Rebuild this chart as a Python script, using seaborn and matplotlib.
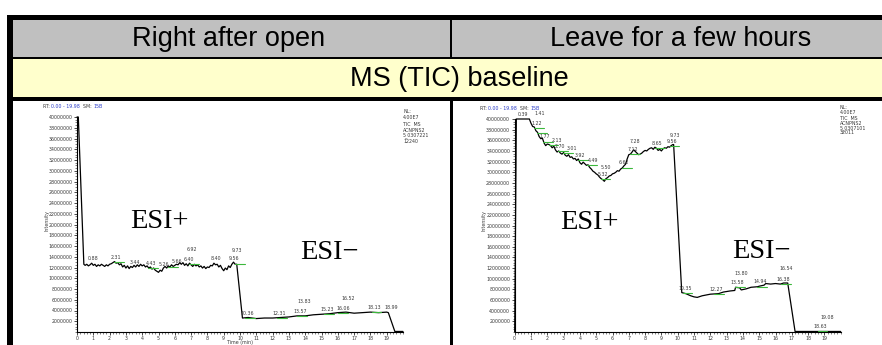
import numpy as np
import pandas as pd
import matplotlib
matplotlib.use("Agg")
import matplotlib.pyplot as plt
import seaborn as sns
from matplotlib import font_manager
from matplotlib.patches import Rectangle
from matplotlib.ticker import FixedLocator, FixedFormatter, MultipleLocator

# ---------------- data ----------------
col_headers = ["Right after open", "Leave for a few hours"]
row_header = "MS (TIC) baseline"

# left panel trace (time in min, intensity in 1e6 counts)
left_time = [0.0, 0.08, 0.42, 0.5, 0.6, 0.7, 0.8, 0.9, 1.0, 1.1, 1.2, 1.3, 1.4, 1.5, 1.6, 1.7, 1.8, 1.9,
             2.0, 2.1, 2.2, 2.3, 2.4, 2.5, 2.6, 2.7, 2.8, 2.9, 3.0, 3.1, 3.2, 3.3, 3.4, 3.5, 3.6, 3.7,
             3.8, 3.9, 4.0, 4.1, 4.2, 4.3, 4.4, 4.5, 4.6, 4.7, 4.8, 4.9, 5.0, 5.1, 5.2, 5.3, 5.4, 5.5,
             5.6, 5.7, 5.8, 5.9, 6.0, 6.1, 6.2, 6.3, 6.4, 6.5, 6.6, 6.7, 6.8, 6.9, 7.0, 7.1, 7.2, 7.3,
             7.4, 7.5, 7.6, 7.7, 7.8, 7.9, 8.0, 8.1, 8.2, 8.3, 8.4, 8.5, 8.6, 8.7, 8.8, 8.9, 9.0, 9.1,
             9.2, 9.3, 9.4, 9.5, 9.6, 9.7, 9.8, 10.15, 10.5, 11.0, 11.5, 12.0, 12.5, 13.0, 13.5, 14.0,
             14.5, 15.0, 15.5, 16.0, 16.5, 17.0, 17.5, 18.0, 18.5, 19.0, 19.1, 19.5, 20.0]
left_int = [40.0, 40.0, 12.6, 12.4, 12.6, 12.3, 12.5, 12.8, 12.4, 12.6, 12.2, 12.5, 12.3, 12.6, 12.4, 12.2, 12.5, 12.3,
            12.6, 12.7, 12.9, 13.1, 12.8, 12.9, 12.5, 12.7, 12.1, 12.4, 11.9, 12.3, 11.8, 12.2, 12.0, 12.4, 12.1, 12.5,
            12.2, 12.6, 12.3, 12.5, 12.1, 12.3, 11.9, 12.1, 11.7, 11.9, 11.5, 11.3, 11.1, 11.5, 11.3, 11.9, 12.2, 11.9,
            12.3, 12.1, 12.5, 12.2, 12.4, 12.6, 12.5, 12.9, 12.6, 12.9, 12.4, 12.7, 12.3, 12.8, 12.5, 12.2, 12.6, 12.3,
            12.5, 12.1, 12.3, 11.9, 12.2, 11.8, 12.1, 12.0, 12.4, 12.3, 12.8, 12.5, 12.6, 12.1, 12.4, 11.8, 11.4, 11.9,
            11.6, 12.3, 12.0, 12.6, 13.0, 12.6, 12.6, 2.6, 2.7, 2.5, 2.6, 2.6, 2.7, 2.8, 3.0, 3.0,
            3.2, 3.3, 3.4, 3.6, 3.7, 3.5, 3.6, 3.7, 3.6, 3.7, 3.6, 0.1, 0.1]

# right panel trace
right_time = [0.0, 0.1, 0.9, 1.0, 1.1, 1.2, 1.3, 1.4, 1.5, 1.6, 1.7, 1.8, 1.9, 2.0, 2.1, 2.2, 2.3, 2.4, 2.5,
              2.6, 2.7, 2.8, 2.9, 3.0, 3.1, 3.2, 3.3, 3.4, 3.5, 3.6, 3.7, 3.8, 3.9, 4.0, 4.1, 4.2, 4.3,
              4.4, 4.5, 4.6, 4.7, 4.8, 4.9, 5.0, 5.1, 5.2, 5.3, 5.4, 5.5, 5.6, 5.7, 5.8, 5.9, 6.0, 6.1,
              6.2, 6.3, 6.4, 6.5, 6.6, 6.7, 6.8, 6.9, 7.0, 7.1, 7.2, 7.3, 7.4, 7.5, 7.6, 7.7, 7.8, 7.9,
              8.0, 8.1, 8.2, 8.3, 8.4, 8.5, 8.6, 8.7, 8.8, 8.9, 9.0, 9.1, 9.2, 9.3, 9.4, 9.5, 9.6, 9.7,
              9.75, 10.25, 10.5, 10.8, 11.0, 11.2, 11.5, 12.0, 12.5, 12.8, 13.2, 13.5, 13.55, 13.8, 13.9,
              14.2, 14.5, 14.9, 15.0, 15.3, 15.4, 15.7, 16.0, 16.3, 16.5, 16.75, 17.2, 20.0]
right_int = [0.0, 40.0, 40.0, 39.2, 38.6, 38.5, 37.8, 37.5, 36.7, 36.3, 36.4, 35.5, 35.0, 35.3, 35.2, 35.0, 34.6, 34.9, 34.2,
             33.8, 34.0, 33.6, 33.4, 33.7, 33.2, 33.0, 33.3, 32.8, 32.9, 32.5, 32.6, 32.2, 32.5, 31.8, 31.5, 31.9, 31.6,
             31.3, 31.4, 30.9, 30.6, 30.2, 30.0, 29.7, 29.5, 29.1, 28.8, 28.6, 28.3, 28.8, 29.0, 29.3, 29.4, 29.7, 29.8,
             30.0, 30.3, 30.2, 30.6, 30.8, 31.2, 31.5, 32.5, 33.3, 33.4, 33.8, 34.2, 33.9, 33.6, 33.3, 33.4, 33.6, 33.9,
             34.1, 34.0, 34.3, 34.5, 34.6, 34.3, 34.7, 34.5, 34.1, 34.3, 34.0, 34.4, 34.6, 34.5, 34.8, 34.7, 35.0, 35.2,
             35.2, 7.4, 7.2, 6.8, 6.6, 6.5, 6.8, 7.1, 7.2, 7.5, 7.7, 7.8, 8.4, 8.3, 7.9,
             8.1, 8.4, 8.5, 8.6, 8.8, 9.1, 9.0, 9.1, 9.0, 9.2, 9.2, 0.1, 0.1]

# peak labels (retention times)
left_peaks = ["0.88", "2.31", "3.44", "4.43", "5.26", "5.66", "6.40", "6.92", "8.40", "9.56", "9.73",
              "10.36", "12.31", "13.57", "13.83", "15.23", "16.06", "16.52", "18.13", "18.99"]
right_peaks = ["0.39", "1.22", "1.41", "1.77", "2.13", "2.70", "3.01", "3.92", "4.49", "5.32", "5.50",
               "6.62", "7.12", "7.28", "8.65", "9.56", "9.73", "10.35", "12.27", "13.58", "13.80",
               "14.94", "16.38", "16.54", "18.63", "19.08"]
left_green = ["2.31", "4.43", "5.66", "6.92", "9.73", "10.36", "12.31", "13.57", "15.23", "16.06", "18.13"]
right_green = ["1.22", "1.41", "1.77", "2.13", "2.70", "3.01", "3.92", "4.49", "5.32", "6.62", "7.12",
               "8.65", "9.56", "10.35", "12.27", "13.58", "14.94", "16.38", "18.63"]

nl_left = ["NL:", "4.00E7", "TIC  MS", "ACNPNS2", "5_0307221", "12240"]
nl_right = ["NL:", "4.00E7", "TIC  MS", "ACNPNS2", "5_0307101", "32011"]
rt_range = "0.00 - 19.98"
sm_value = "15B"
ytick_vals = [2, 4, 6, 8, 10, 12, 14, 16, 18, 20, 22, 24, 26, 28, 30, 32, 34, 36, 38, 40]
ytick_labels = ["2000000", "4000000", "6000000", "8000000", "10000000", "12000000", "14000000",
                "16000000", "18000000", "20000000", "22000000", "24000000", "26000000", "28000000",
                "30000000", "32000000", "34000000", "36000000", "38000000", "40000000"]
xtick_vals = list(range(0, 20))

# ---------------- fonts ----------------
def has_font(name):
    try:
        font_manager.findfont(font_manager.FontProperties(family=name), fallback_to_default=False)
        return True
    except Exception:
        return False

narrow = "Liberation Sans Narrow" if has_font("Liberation Sans Narrow") else "Liberation Sans"
serif = "Liberation Serif"

sns.set_style("white")
plt.rcParams["font.family"] = ["DejaVu Sans"]

W, H = 882, 345
fig = plt.figure(figsize=(W / 100, H / 100), dpi=100)
renderer = fig.canvas.get_renderer()


def fx(x):
    return x / W


def fy(y):
    return 1 - y / H


def rect(x0, y0, x1, y1, color):
    fig.patches.append(Rectangle((fx(x0), fy(y1)), fx(x1) - fx(x0), fy(y0) - fy(y1),
                                 transform=fig.transFigure, color=color, lw=0, zorder=0))


# table background
rect(7, 15, 882, 19.5, "black")
rect(7, 19.5, 882, 57, "#c0c0c0")
rect(7, 57, 882, 59.5, "black")
rect(7, 59.5, 882, 97, "#ffffcc")
rect(7, 97, 882, 100.5, "black")
rect(7, 15, 13, 345, "black")
rect(450, 19.5, 452, 57, "black")
rect(450, 100.5, 452.5, 345, "black")

hfont = dict(family=narrow, fontsize=22, color="black", ha="center", va="center")
if narrow == "Liberation Sans":
    hfont["fontsize"] = 19.5
fig.text(fx(229), fy(39), col_headers[0], **hfont)
fig.text(fx(681), fy(39), col_headers[1], **hfont)
fig.text(fx(459), fy(79), row_header, **hfont)

small = 3.4
gray = "#3a3a3a"
blue = "#2a3cc8"


def overlaps(bb, others, pad=0.6):
    for o in others:
        if (bb.x0 - pad < o.x1 and bb.x1 + pad > o.x0 and bb.y0 - pad < o.y1 and bb.y1 + pad > o.y0):
            return True
    return False


def text_row(x, y, pieces):
    """draw consecutive text pieces starting at pixel x, y"""
    for s, c in pieces:
        t = fig.text(fx(x), fy(y), s, fontsize=small, color=c, ha="left", va="center")
        bb = t.get_window_extent(renderer)
        x += bb.width


# candidate nudges for peak labels, in points (right first, then up)
nudges = [(0, 0), (2.2, 0), (4.4, 0), (0, 3.4), (2.2, 3.4), (4.4, 3.4), (-2.2, 3.4),
          (0, 6.8), (3.0, 6.8), (0, 10.2)]


def make_panel(x0, ytop, times, vals, peaks, greens, nl, nl_x, nl_y, nl_dy, rt_xy, ilab_x, time_label):
    x1 = x0 + 16.3 * 20
    ybot = 332
    ax = fig.add_axes([fx(x0), fy(ybot), fx(x1) - fx(x0), fy(ytop) - fy(ybot)])
    df = pd.DataFrame({"time": times, "intensity": np.array(vals) * 1e6})
    sns.lineplot(data=df, x="time", y="intensity", ax=ax, color="black", lw=0.9,
                 estimator=None, sort=False)
    for ln in ax.lines:
        ln.set_clip_on(False)
    ax.set_xlim(0, 20)
    ax.set_ylim(0, 40e6)
    ax.set_xlabel("")
    ax.set_ylabel("")
    ax.set_facecolor("none")
    for s in ["top", "right"]:
        ax.spines[s].set_visible(False)
    for s in ["left", "bottom"]:
        ax.spines[s].set_linewidth(0.8)
        ax.spines[s].set_color("black")
    ax.yaxis.set_major_locator(FixedLocator([v * 1e6 for v in ytick_vals]))
    ax.yaxis.set_major_formatter(FixedFormatter(ytick_labels))
    ax.yaxis.set_minor_locator(MultipleLocator(0.5e6))
    ax.xaxis.set_major_locator(FixedLocator(xtick_vals))
    ax.xaxis.set_major_formatter(FixedFormatter([str(v) for v in xtick_vals]))
    ax.xaxis.set_minor_locator(MultipleLocator(0.2))
    ax.tick_params(which="major", direction="out", length=2.2, width=0.5, labelsize=small,
                   pad=1, colors="black", labelcolor=gray, left=True, bottom=True)
    ax.tick_params(which="minor", direction="out", length=1.2, width=0.4, left=True, bottom=True)
    # peak labels, nudged when they collide
    t_arr = np.array(times)
    v_arr = np.array(vals)
    placed = []
    for p in peaks:
        t = float(p)
        v = min(np.interp(t, t_arr, v_arr), 40.0)
        if p in greens:
            ax.plot([t - 0.05, t + 0.55], [v * 1e6, v * 1e6], color="#3cb83c", lw=0.8, clip_on=False)
        ann = ax.annotate(p, (t + 0.1, v * 1e6), xytext=(0, 1.5), textcoords="offset points", ha="center",
                          va="bottom", fontsize=small, color=gray, annotation_clip=False)
        for ddx, ddy in nudges:
            ann.set_position((ddx, 1.5 + ddy))
            bb = ann.get_window_extent(renderer)
            if not overlaps(bb, placed):
                break
        placed.append(bb)
    # NL block
    yy = nl_y
    for i, line in enumerate(nl):
        fig.text(fx(nl_x), fy(yy), line, fontsize=small, color=gray, ha="left", va="center")
        yy += nl_dy + (1.5 if i == 1 else 0)
    # RT header
    rx, ry = rt_xy
    text_row(rx, ry, [("RT: ", gray), (rt_range, blue), ("  SM: ", gray), (sm_value, blue)])
    fig.text(fx(ilab_x), fy(221), "Intensity", fontsize=small, color=gray, rotation=90,
             ha="center", va="center")
    if time_label:
        fig.text(fx(x0 + 16.3 * 10), fy(342.5), "Time (min)", fontsize=small, color=gray,
                 ha="center", va="center")
    return ax


axL = make_panel(77, 117, left_time, left_int, left_peaks, left_green, nl_left, 403, 111.7, 5.6,
                 (43, 106), 47, True)
axR = make_panel(514.7, 119, right_time, right_int, right_peaks, right_green, nl_right, 840, 107.3, 4.8,
                 (480, 109), 483.5, False)

efont = dict(family=serif, fontsize=20.5, color="black", ha="center", va="center")
fig.text(fx(159), fy(222), "ESI+", **efont)
fig.text(fx(329), fy(252.5), "ESI\u2212", **efont)
fig.text(fx(589.5), fy(222.5), "ESI+", **efont)
fig.text(fx(761), fy(251.7), "ESI\u2212", **efont)

fig.savefig("out.png", dpi=100)
